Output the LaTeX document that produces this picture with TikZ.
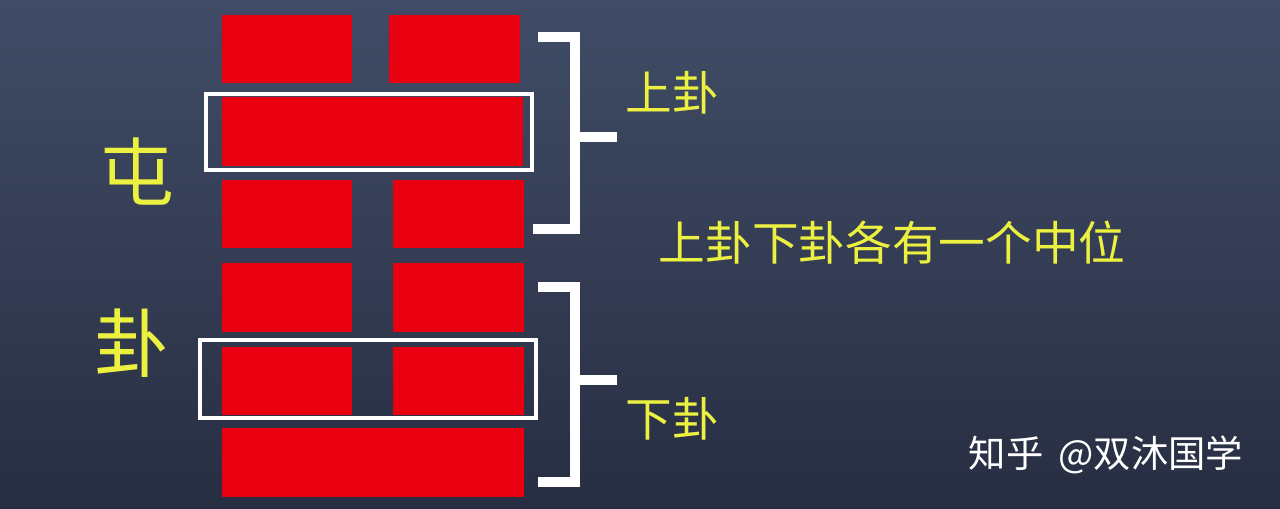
\documentclass[tikz,border=0pt]{standalone}
\usepackage{fontspec}
\newfontfamily\cjk{Noto Sans CJK SC}
\definecolor{bgtop}{RGB}{64,76,102}
\definecolor{bgbot}{RGB}{40,46,66}
\definecolor{yaored}{RGB}{232,0,16}
\definecolor{ylw}{RGB}{236,240,64}
\tikzset{
  yao/.style={fill=yaored, draw=none},
  hibox/.style={draw=white, line width=3.5pt},
  brace/.style={draw=white, line width=7.5pt, line cap=butt, line join=miter},
  ylabel/.style={text=ylw, font=\cjk\fontsize{35}{40}\selectfont, inner sep=0pt},
  biglabel/.style={text=ylw, font=\cjk\fontsize{56}{60}\selectfont, inner sep=0pt},
  wm/.style={text=white, font=\cjk\fontsize{28}{33}\selectfont, inner sep=0pt}
}
\begin{document}
\begin{tikzpicture}[x=0.75pt,y=-0.75pt]
\useasboundingbox (0,0) rectangle (1280,508);
\shade[top color=bgtop, bottom color=bgbot] (0,0) rectangle (1280,508);
% row 1 (yin)
\path[yao] (222,15) rectangle (352,83);
\path[yao] (389,15) rectangle (520,83);
% row 2 (yang)
\path[yao] (222,97) rectangle (523,166);
% row 3 (yin)
\path[yao] (222,180) rectangle (352,248);
\path[yao] (393,180) rectangle (524,248);
% row 4 (yin)
\path[yao] (222,263) rectangle (352,332);
\path[yao] (393,263) rectangle (524,332);
% row 5 (yin)
\path[yao] (222,347) rectangle (352,415);
\path[yao] (393,347) rectangle (524,415);
% row 6 (yang)
\path[yao] (222,428) rectangle (524,497);
% highlight boxes
\draw[hibox] (206,94) rectangle (532,170);
\draw[hibox] (200,340) rectangle (536,418);
% upper bracket
\coordinate (ua) at (538,37);
\coordinate (ub) at (575,37);
\coordinate (uc) at (575,229);
\coordinate (ud) at (533,229);
\coordinate (um) at (575,137);
\coordinate (ut) at (617,137);
\draw[brace] (ua) -- (ub) -- (uc) -- (ud);
\draw[brace] (um) -- (ut);
% lower bracket
\coordinate (la) at (538,287);
\coordinate (lb) at (575,287);
\coordinate (lc) at (575,482);
\coordinate (ld) at (538,482);
\coordinate (lm) at (575,380);
\coordinate (lt) at (617,380);
\draw[brace] (la) -- (lb) -- (lc) -- (ld);
\draw[brace] (lm) -- (lt);
% labels
\node[biglabel] (tun) at (137,172) {屯};
\node[biglabel] (gua) at (132,343) {卦};
\node[ylabel] (shang) at (672,93) {上卦};
\node[ylabel] (xia) at (672,419) {下卦};
\node[ylabel] (note) at (892,243) {上卦下卦各有一个中位};
\node[wm] (mark) at (1106,455) {知乎\hspace{0.4em}@双沐国学};
\end{tikzpicture}
\end{document}
